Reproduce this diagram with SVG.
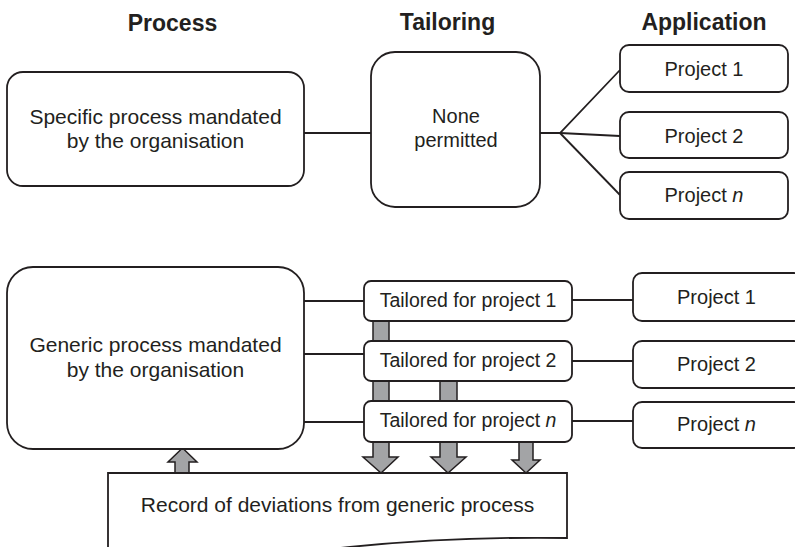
<svg xmlns="http://www.w3.org/2000/svg" width="795" height="547" viewBox="0 0 795 547">
<style>
.box{fill:#fff;stroke:#231f20;stroke-width:1.8}
.ln{fill:none;stroke:#231f20;stroke-width:1.8}
.arr{fill:#a3a4a6;stroke:#231f20;stroke-width:1.5;stroke-linejoin:miter}
text{font-family:"Liberation Sans",Arial,sans-serif;fill:#231f20;text-anchor:middle}
.h{font-size:23px;font-weight:bold}
.t21{font-size:21px}
.t20{font-size:20px}
.t19{font-size:19.5px}
</style>
<rect width="795" height="547" fill="#fff"/>
<g id="headings">
<text class="h" x="172.5" y="31">Process</text>
<text class="h" x="447.5" y="30">Tailoring</text>
<text class="h" x="704" y="30">Application</text>
</g>
<g id="connectors">
<line class="ln" x1="304" y1="133" x2="371" y2="133"/>
<polyline class="ln" points="540,133 560,133 620,70"/>
<line class="ln" x1="560" y1="133" x2="620" y2="136"/>
<line class="ln" x1="560" y1="133" x2="620" y2="195"/>
<line class="ln" x1="304" y1="301" x2="364" y2="301"/>
<line class="ln" x1="304" y1="354" x2="364" y2="354"/>
<line class="ln" x1="304" y1="422" x2="364" y2="422"/>
<line class="ln" x1="572" y1="300" x2="633" y2="300"/>
<line class="ln" x1="572" y1="361" x2="633" y2="361"/>
<line class="ln" x1="572" y1="421" x2="633" y2="421"/>
<rect class="arr" x="373" y="321" width="16" height="20"/>
<rect class="arr" x="373" y="381" width="16" height="20"/>
<rect class="arr" x="440" y="381" width="17" height="20"/>
<path class="arr" d="M373,442 H389 V457 H398 L381,473 L363,457 H373 Z"/>
<path class="arr" d="M440,442 H457 V457 H466 L448,473 L431,457 H440 Z"/>
<path class="arr" d="M519,442 H533 V460 H540 L526,473 L512,460 H519 Z"/>
<path class="arr" d="M175,474 V462 H168 L182.5,448 L197,462 H189 V474 Z"/>
</g>
<g id="specific">
<rect class="box" x="7" y="72" width="297" height="114" rx="16"/>
<text class="t21" x="155.5" y="124">Specific process mandated</text>
<text class="t21" x="155.5" y="148">by the organisation</text>
</g>
<g id="none">
<rect class="box" x="371" y="52" width="169" height="155" rx="24"/>
<text class="t20" x="456" y="123">None</text>
<text class="t20" x="456" y="147">permitted</text>
</g>
<g id="app1">
<rect class="box" x="620" y="45" width="168" height="47" rx="9"/>
<text class="t20" x="704" y="76">Project 1</text>
</g>
<g id="app2">
<rect class="box" x="620" y="112" width="168" height="46" rx="9"/>
<text class="t20" x="704" y="143">Project 2</text>
</g>
<g id="appn">
<rect class="box" x="620" y="172" width="168" height="47" rx="9"/>
<text class="t20" x="704" y="202">Project <tspan font-style="italic">n</tspan></text>
</g>
<g id="generic">
<rect class="box" x="7" y="267" width="297" height="182" rx="26"/>
<text class="t21" x="155.5" y="352">Generic process mandated</text>
<text class="t21" x="155.5" y="377">by the organisation</text>
</g>
<g id="tail1">
<rect class="box" x="364" y="281" width="208" height="40" rx="7"/>
<text class="t19" x="468" y="307">Tailored for project 1</text>
</g>
<g id="tail2">
<rect class="box" x="364" y="341" width="208" height="40" rx="7"/>
<text class="t19" x="468" y="367">Tailored for project 2</text>
</g>
<g id="tailn">
<rect class="box" x="364" y="401" width="208" height="41" rx="7"/>
<text class="t19" x="468" y="427">Tailored for project <tspan font-style="italic">n</tspan></text>
</g>
<g id="proj1">
<rect class="box" x="633" y="273" width="170" height="48" rx="9"/>
<text class="t20" x="716.5" y="304">Project 1</text>
</g>
<g id="proj2">
<rect class="box" x="633" y="341" width="170" height="47" rx="9"/>
<text class="t20" x="716.5" y="371">Project 2</text>
</g>
<g id="projn">
<rect class="box" x="633" y="402" width="170" height="46" rx="9"/>
<text class="t20" x="716.5" y="431">Project <tspan font-style="italic">n</tspan></text>
</g>
<g id="record">
<path class="box" d="M108,560 V473 H567 V538 C500,537 420,540 350,547 C280,554 200,562 108,560"/>
<text class="t21" x="337.5" y="512">Record of deviations from generic process</text>
</g>
</svg>
